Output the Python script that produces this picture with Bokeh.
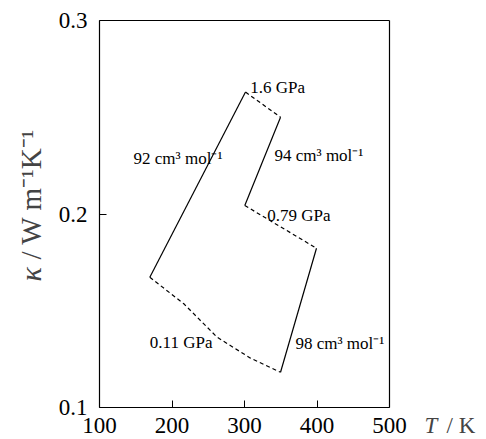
import math
from bokeh.plotting import figure
from bokeh.models import Label, FixedTicker, LinearAxis
from bokeh.core.properties import value
from bokeh.embed import file_html
from bokeh.resources import INLINE

# --- data ---
v92_T = [169.4, 301.4]
v92_k = [0.1673, 0.263]
p16_T = [301.4, 349.7]
p16_k = [0.263, 0.250]
v94_T = [349.7, 300.4]
v94_k = [0.250, 0.2044]
p079_T = [300.4, 399.3]
p079_k = [0.2044, 0.1823]
v98_T = [399.3, 349.7]
v98_k = [0.1823, 0.1182]
p011_T = [169.4, 216.3, 262.3, 308.3, 349.7]
p011_k = [0.1673, 0.1536, 0.1363, 0.1255, 0.1182]

x_ticks = [100, 200, 300, 400, 500]
y_ticks = [0.1, 0.2, 0.3]
x_lim = (100, 500)
y_lim = (0.1, 0.3)

label_texts = ["92 cm³ mol⁻¹", "1.6 GPa", "94 cm³ mol⁻¹", "0.79 GPa", "0.11 GPa", "98 cm³ mol⁻¹"]
label_T = [147.0, 308.0, 341.4, 331.3, 169.4, 370.3]
label_k = [0.2287, 0.2654, 0.2302, 0.1992, 0.1337, 0.1329]

FONT = "Liberation Serif"
W, H = 486, 439
# pixel placement of the axes box inside the canvas
box_left, box_right, box_top, box_bottom = 99, 389, 20, 407
sx = (box_right - box_left) / (x_lim[1] - x_lim[0])
sy = (box_bottom - box_top) / (y_lim[1] - y_lim[0])
xr = (x_lim[0] - box_left / sx, x_lim[1] + (W - box_right) / sx)
yr = (y_lim[0] - (H - box_bottom) / sy, y_lim[1] + box_top / sy)

p = figure(width=W, height=H, x_range=xr, y_range=yr,
           output_backend="svg", toolbar_location=None,
           x_axis_location=None, y_axis_location=None,
           min_border=0)
p.grid.visible = False
p.outline_line_color = None
p.background_fill_color = "white"
p.border_fill_color = "white"

xaxis = LinearAxis(fixed_location=y_lim[0], bounds=x_lim, ticker=FixedTicker(ticks=x_ticks))
yaxis = LinearAxis(fixed_location=x_lim[0], bounds=y_lim, ticker=FixedTicker(ticks=y_ticks))
for ax in (xaxis, yaxis):
    ax.axis_line_color = "black"
    ax.axis_line_width = 1.2
    ax.major_tick_in = 7
    ax.major_tick_out = 0
    ax.minor_tick_line_color = None
    ax.major_tick_line_color = "black"
    ax.major_tick_line_width = 1
    ax.major_label_text_font = FONT
    ax.major_label_text_font_size = "23px"
    ax.major_label_text_color = "black"
xaxis.major_label_standoff = 10
yaxis.major_label_standoff = 12
p.add_layout(xaxis, "below")
p.add_layout(yaxis, "left")

# closing lines of the box (top and right), no ticks or labels
top_ax = LinearAxis(fixed_location=y_lim[1], bounds=x_lim, ticker=FixedTicker(ticks=[]))
right_ax = LinearAxis(fixed_location=x_lim[1], bounds=y_lim, ticker=FixedTicker(ticks=[]))
for ax in (top_ax, right_ax):
    ax.axis_line_color = "black"
    ax.axis_line_width = 1.2
    ax.major_tick_line_color = None
    ax.minor_tick_line_color = None
    ax.major_label_text_font_size = "0px"
p.add_layout(top_ax, "above")
p.add_layout(right_ax, "right")

solid = dict(line_color="black", line_width=1.2)
dashed = dict(line_color="black", line_width=1.2, line_dash="4 3")
p.line(v92_T, v92_k, **solid)
p.line(v94_T, v94_k, **solid)
p.line(v98_T, v98_k, **solid)
p.line(p16_T, p16_k, **dashed)
p.line(p079_T, p079_k, **dashed)
p.line(p011_T, p011_k, **dashed)

p.text(x=label_T, y=label_k, text=label_texts, text_font=value(FONT),
       text_font_size="17px", text_color="black",
       text_align="left", text_baseline="middle")

# x-axis label "T / K" right of the axis (screen units, from bottom-left)
p.add_layout(Label(x=424, y=14, x_units="screen", y_units="screen", text="T",
                   text_font=FONT, text_font_style="italic", text_font_size="23px",
                   text_align="left", text_baseline="middle"))
p.add_layout(Label(x=446, y=14, x_units="screen", y_units="screen", text="/ K",
                   text_font=FONT, text_font_size="23px",
                   text_align="left", text_baseline="middle"))

# y-axis label "κ / W m⁻¹K⁻¹", rotated
p.add_layout(Label(x=30, y=158, x_units="screen", y_units="screen", text="κ",
                   text_font=FONT, text_font_style="italic", text_font_size="30px",
                   angle=math.pi / 2, text_align="left", text_baseline="middle"))
p.add_layout(Label(x=30, y=180, x_units="screen", y_units="screen", text="/ W m⁻¹K⁻¹",
                   text_font=FONT, text_font_size="29px",
                   angle=math.pi / 2, text_align="left", text_baseline="middle"))

open("out.html", "w").write(file_html(p, INLINE))
